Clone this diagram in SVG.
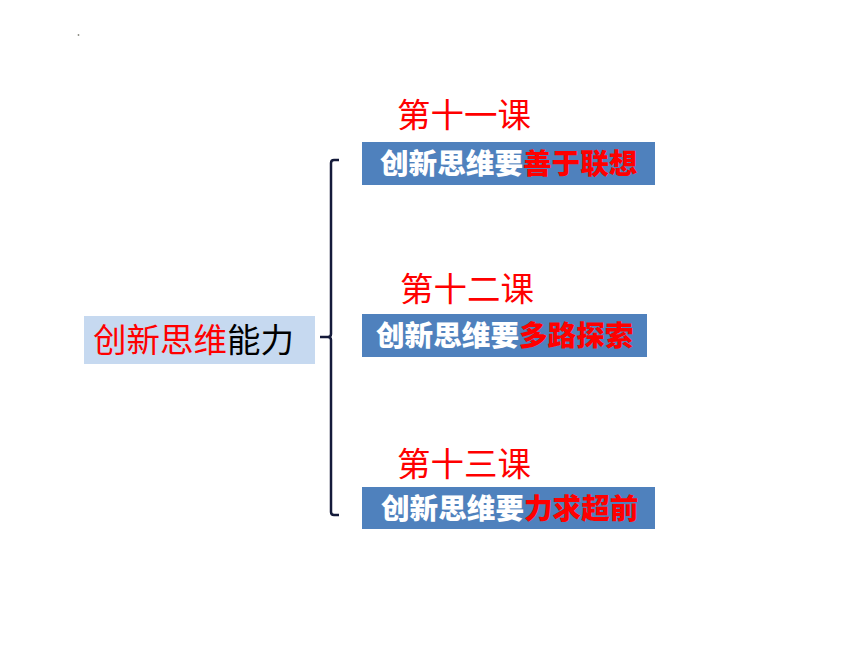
<svg xmlns="http://www.w3.org/2000/svg" width="860" height="645" viewBox="0 0 860 645">
<style>
.bg{fill:#ffffff}
.root{fill:#C6D9F0}
.box{fill:#4F81BD}
.cjk{font-family:"Noto Sans CJK SC","Noto Sans",sans-serif}
.root-t{font-size:33.5px;font-weight:400}
.head{font-size:33.5px;fill:#FF0000;font-weight:400}
.box-t{font-size:28.6px;font-weight:900;fill:#FFFFFF}
.red{fill:#FF0000}
.blk{fill:#000000}
.brace{fill:none;stroke:#141A3A;stroke-width:2.5;stroke-linejoin:round;stroke-linecap:butt}
</style>
<rect class="bg" x="0" y="0" width="860" height="645"/>
<circle cx="78.5" cy="35" r="0.9" fill="#8A8A80"/>
<g id="connectors">
<path class="brace" d="M339,160 L334,160 Q331,160 331,163 L331,334 Q331,337 328,337 L320,337 M328,337 Q331,337 331,340 L331,512 Q331,515 334,515 L339,515"/>
</g>
<g id="root">
<rect class="root" x="84" y="316" width="231" height="48"/>
<text class="cjk root-t" x="93" y="352"><tspan class="red">创新思维</tspan><tspan class="blk">能力</tspan></text>
</g>
<g id="lesson11">
<text class="cjk head" x="397" y="127">第十一课</text>
<rect class="box" x="362" y="142" width="293" height="43"/>
<text class="cjk box-t" x="380" y="173.5">创新思维要<tspan class="red">善于联想</tspan></text>
</g>
<g id="lesson12">
<text class="cjk head" x="400" y="301">第十二课</text>
<rect class="box" x="362" y="314" width="285" height="43"/>
<text class="cjk box-t" x="376" y="345.5">创新思维要<tspan class="red">多路探索</tspan></text>
</g>
<g id="lesson13">
<text class="cjk head" x="397" y="476">第十三课</text>
<rect class="box" x="362" y="487" width="293" height="42"/>
<text class="cjk box-t" x="381" y="518.5">创新思维要<tspan class="red">力求超前</tspan></text>
</g>
</svg>
